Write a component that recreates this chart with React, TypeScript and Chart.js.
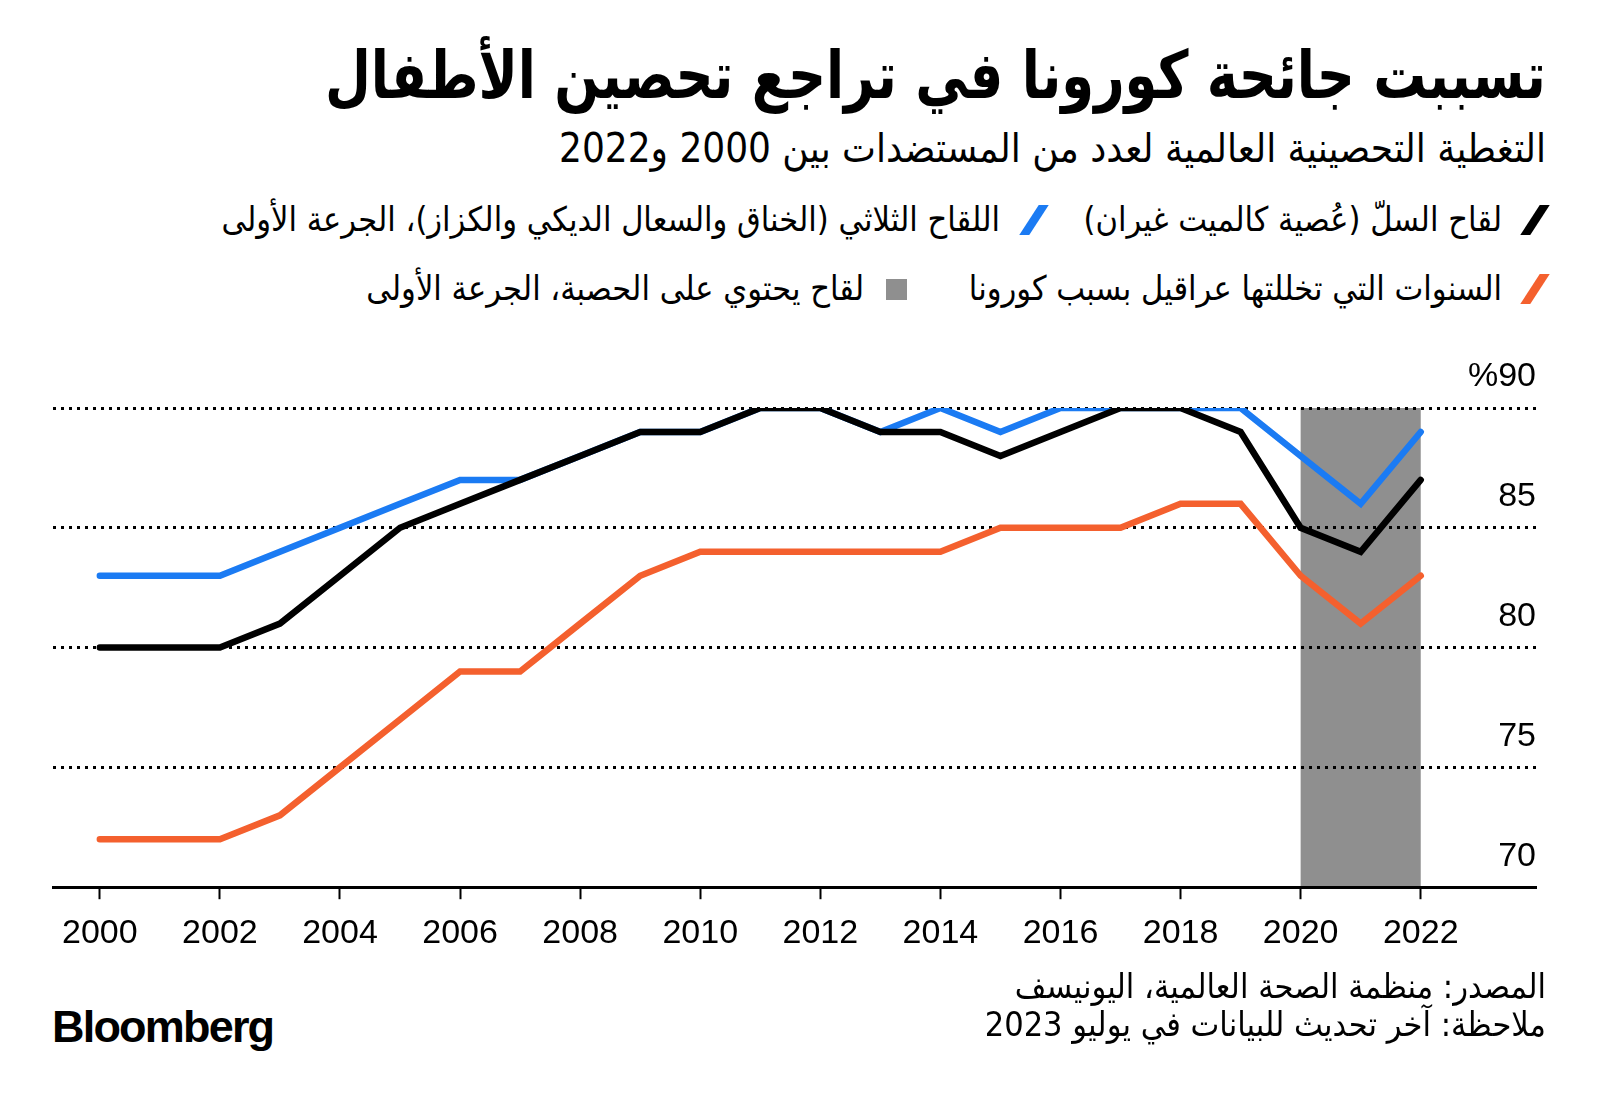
import React, { useEffect, useRef } from 'react';
import { Chart, registerables } from 'chart.js';

Chart.register(...registerables);

// ---------- data ----------
const years = [2000, 2001, 2002, 2003, 2004, 2005, 2006, 2007, 2008, 2009, 2010, 2011, 2012, 2013, 2014, 2015, 2016, 2017, 2018, 2019, 2020, 2021, 2022];
const bcgValues = [80, 80, 80, 81, 83, 85, 86, 87, 88, 89, 89, 90, 90, 89, 89, 88, 89, 90, 90, 89, 85, 84, 87];
const dtp1Values = [83, 83, 83, 84, 85, 86, 87, 87, 88, 89, 89, 90, 90, 89, 90, 89, 90, 90, 90, 90, 88, 86, 89];
const mcv1Values = [72, 72, 72, 73, 75, 77, 79, 79, 81, 83, 84, 84, 84, 84, 84, 85, 85, 85, 86, 86, 83, 81, 83];
const xTickYears = [2000, 2002, 2004, 2006, 2008, 2010, 2012, 2014, 2016, 2018, 2020, 2022];
const yTickValues = [70, 75, 80, 85, 90];
const covidYears = [2020, 2022];
const covidTop = 90;

const titleText = 'تسببت جائحة كورونا في تراجع تحصين الأطفال';
const subtitleText = 'التغطية التحصينية العالمية لعدد من المستضدات بين 2000 و2022';
const legendBcg = 'لقاح السلّ (عُصية كالميت غيران)';
const legendDtp = 'اللقاح الثلاثي (الخناق والسعال الديكي والكزاز)، الجرعة الأولى';
const legendOrange = 'السنوات التي تخللتها عراقيل بسبب كورونا';
const legendGrey = 'لقاح يحتوي على الحصبة، الجرعة الأولى';
const sourceText = 'المصدر: منظمة الصحة العالمية، اليونيسف';
const noteText = 'ملاحظة: آخر تحديث للبيانات في يوليو 2023';

const BLACK = '#000000';
const BLUE = '#1B7BF3';
const ORANGE = '#F4602E';
const GREY = '#8F8F8F';

const AR_FONT = '"DejaVu Sans Condensed", "DejaVu Sans", sans-serif';
const NUM_FONT = '"Liberation Sans", Arial, sans-serif';

const covidBandPlugin = {
  id: 'covidBand',
  beforeDraw(chart: any) {
    const { ctx, chartArea, scales } = chart;
    const x0 = scales.x.getPixelForValue(covidYears[0]);
    const x1 = scales.x.getPixelForValue(covidYears[1]);
    const y0 = scales.y.getPixelForValue(covidTop);
    ctx.save();
    ctx.fillStyle = GREY;
    ctx.fillRect(x0, y0, x1 - x0, chartArea.bottom - y0);
    ctx.restore();
  },
};

function Txt(props: { right: number; cy: number; size: number; bold?: boolean; lh?: number; sx?: number; children: any }) {
  const lh = props.lh ?? Math.round(props.size * 1.5);
  return (
    <div
      style={{
        position: 'absolute',
        right: 1600 - props.right,
        top: props.cy - lh / 2,
        height: lh,
        lineHeight: lh + 'px',
        fontSize: props.size,
        fontWeight: props.bold ? 700 : 400,
        fontFamily: AR_FONT,
        direction: 'rtl',
        whiteSpace: 'nowrap',
        color: '#000',
        transform: props.sx ? `scaleX(${props.sx})` : undefined,
        transformOrigin: 'right center',
      }}
    >
      {props.children}
    </div>
  );
}

function Slash(props: { cx: number; cy: number; color: string }) {
  return (
    <div
      style={{
        position: 'absolute',
        left: props.cx - 5,
        top: props.cy - 15,
        width: 10,
        height: 30,
        background: props.color,
        transform: 'skewX(-33deg)',
      }}
    />
  );
}

export default function App() {
  const canvasRef = useRef<HTMLCanvasElement | null>(null);

  useEffect(() => {
    if (!canvasRef.current) return;
    const mk = (arr: number[]) => years.map((yr, i) => ({ x: yr, y: arr[i] }));
    const lineStyle = {
      borderWidth: 6.5,
      pointRadius: 0,
      tension: 0,
      borderCapStyle: 'round' as const,
      borderJoinStyle: 'miter' as const,
      fill: false,
    };
    const chart = new Chart(canvasRef.current, {
      type: 'line',
      data: {
        datasets: [
          { label: legendBcg, data: mk(bcgValues), borderColor: BLACK, ...lineStyle },
          { label: legendDtp, data: mk(dtp1Values), borderColor: BLUE, ...lineStyle },
          { label: legendGrey, data: mk(mcv1Values), borderColor: ORANGE, ...lineStyle },
        ],
      },
      options: {
        animation: false,
        responsive: true,
        maintainAspectRatio: false,
        layout: { padding: { left: 53, right: 64, top: 78, bottom: 2 } },
        plugins: {
          legend: { display: false },
          tooltip: { enabled: false },
          title: { display: false },
        },
        scales: {
          x: {
            type: 'linear',
            position: 'bottom',
            min: 1999.22,
            max: 2023.92,
            afterBuildTicks: (scale: any) => {
              scale.ticks = xTickYears.map((v) => ({ value: v }));
            },
            ticks: {
              autoSkip: false,
              maxRotation: 0,
              padding: 14,
              color: '#000',
              font: { family: NUM_FONT, size: 34 },
              callback: (v: any) => String(v),
            },
            grid: {
              display: true,
              drawOnChartArea: false,
              drawTicks: true,
              tickLength: 12,
              tickWidth: 2,
              tickColor: '#000',
              color: '#000',
            },
            border: { display: true, color: '#000', width: 3 },
          },
          y: {
            type: 'linear',
            position: 'right',
            min: 70,
            max: 90,
            afterBuildTicks: (scale: any) => {
              scale.ticks = yTickValues.map((v) => ({ value: v }));
            },
            ticks: {
              mirror: true,
              padding: 0,
              labelOffset: -31,
              color: '#000',
              font: { family: NUM_FONT, size: 34 },
              callback: (v: any) => (v === 90 ? '%90' : String(v)),
            },
            grid: {
              display: true,
              drawTicks: false,
              lineWidth: 3,
              color: (ctx: any) => (ctx.tick && ctx.tick.value === 70 ? 'rgba(0,0,0,0)' : '#000'),
            },
            border: { display: false, dash: [3, 5] },
          },
        },
      },
      plugins: [covidBandPlugin],
    });
    return () => chart.destroy();
  }, []);

  return (
    <div style={{ position: 'absolute', left: 0, top: 0, width: 1600, height: 1105, background: '#fff', overflow: 'hidden' }}>
      <Txt right={1546} cy={76} size={66} bold lh={96} sx={0.89}>{titleText}</Txt>
      <Txt right={1546} cy={148} size={40} lh={56}>{subtitleText}</Txt>

      <Slash cx={1535} cy={220} color={BLACK} />
      <Txt right={1502} cy={219} size={34} lh={48}>{legendBcg}</Txt>
      <Slash cx={1034} cy={220} color={BLUE} />
      <Txt right={1000} cy={219} size={34} lh={48}>{legendDtp}</Txt>

      <Slash cx={1535} cy={289} color={ORANGE} />
      <Txt right={1502} cy={288} size={34} lh={48}>{legendOrange}</Txt>
      <div style={{ position: 'absolute', left: 886, top: 279, width: 21, height: 21, background: GREY }} />
      <Txt right={864} cy={288} size={34} lh={48}>{legendGrey}</Txt>

      <div style={{ position: 'absolute', left: 0, top: 330, width: 1600, height: 640 }}>
        <canvas ref={canvasRef} />
      </div>

      <Txt right={1546} cy={986} size={34} lh={44}>{sourceText}</Txt>
      <Txt right={1546} cy={1024} size={34} lh={44}>{noteText}</Txt>
      <div
        style={{
          position: 'absolute',
          left: 52,
          top: 1000,
          height: 54,
          lineHeight: '54px',
          fontSize: 45,
          fontWeight: 700,
          fontFamily: NUM_FONT,
          letterSpacing: -1.8,
          color: '#000',
        }}
      >
        Bloomberg
      </div>
    </div>
  );
}
